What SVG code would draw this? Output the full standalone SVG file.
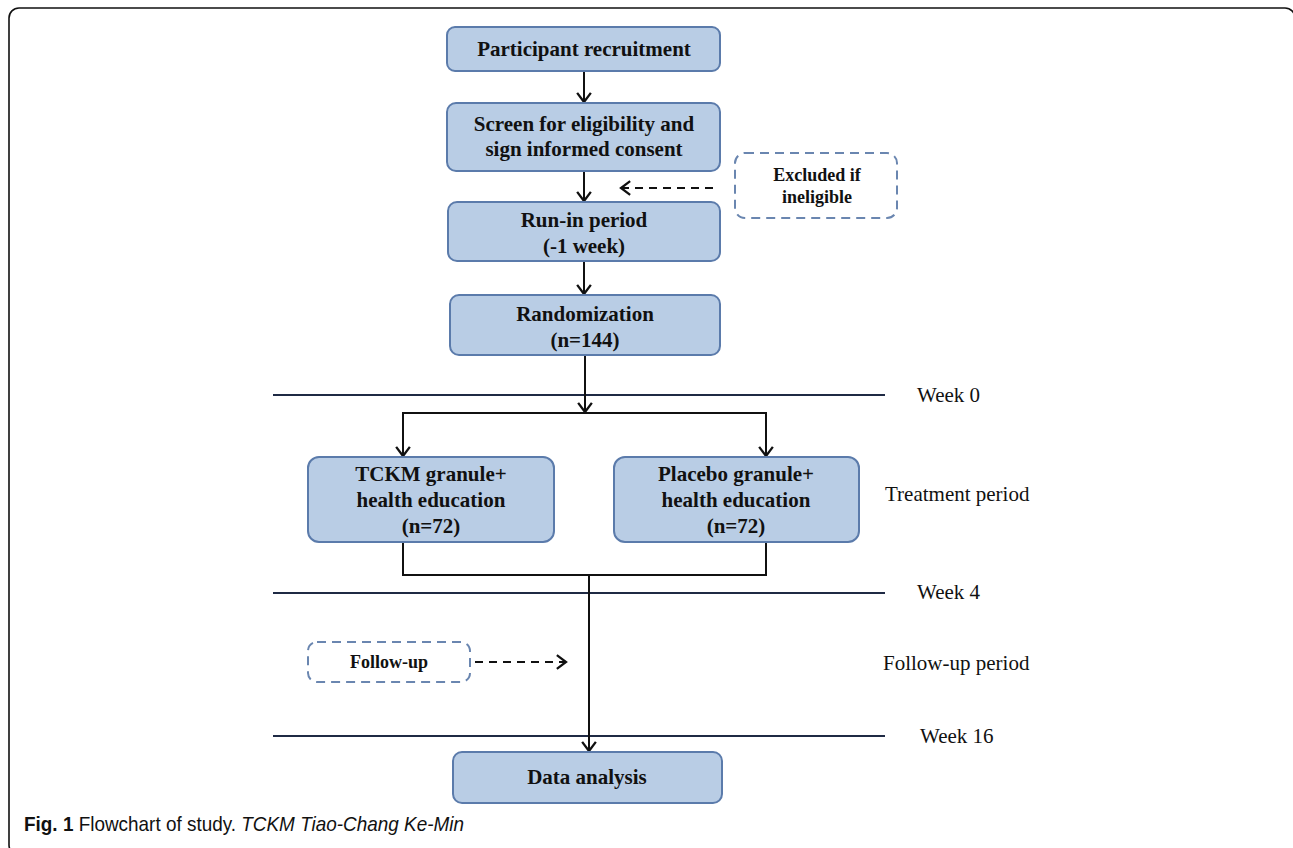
<svg xmlns="http://www.w3.org/2000/svg" width="1293" height="848" viewBox="0 0 1293 848">
<defs>
<style>
.box{fill:#b9cde5;stroke:#5b7bab;stroke-width:2}
.dbox{fill:#ffffff;stroke:#6a86b0;stroke-width:2;stroke-dasharray:9 6}
.bt{font-family:"Liberation Serif","Times New Roman",serif;font-weight:bold;font-size:21px;fill:#111;text-anchor:middle}
.st{font-family:"Liberation Serif","Times New Roman",serif;font-weight:bold;font-size:18px;fill:#111;text-anchor:middle}
.lab{font-family:"Liberation Serif","Times New Roman",serif;font-size:21px;fill:#111}
.con{fill:none;stroke:#111;stroke-width:2}
.dcon{fill:none;stroke:#111;stroke-width:2;stroke-dasharray:8 6}
.wk{fill:none;stroke:#1f2a44;stroke-width:2}
.cap{font-family:"Liberation Sans",Arial,sans-serif;font-size:21px;fill:#111}
</style>
<marker id="ah" markerUnits="userSpaceOnUse" markerWidth="16" markerHeight="16" refX="10" refY="7" orient="auto" viewBox="0 0 12 14">
<path d="M2,1 L10,7 L2,13" fill="none" stroke="#111" stroke-width="2"/>
</marker>
</defs>
<rect width="1293" height="848" fill="#ffffff"/>
<rect x="9" y="8" width="1286" height="847" rx="10" fill="none" stroke="#111" stroke-width="1.6"/>

<g id="week-lines">
<line class="wk" x1="273" y1="395" x2="885" y2="395"/>
<line class="wk" x1="273" y1="593" x2="885" y2="593"/>
<line class="wk" x1="273" y1="736" x2="885" y2="736"/>
</g>

<g id="connectors">
<line class="con" x1="584" y1="71" x2="584" y2="102" marker-end="url(#ah)"/>
<line class="con" x1="584" y1="171" x2="584" y2="201" marker-end="url(#ah)"/>
<line class="con" x1="584" y1="261" x2="584" y2="294" marker-end="url(#ah)"/>
<line class="con" x1="585" y1="355" x2="585" y2="412" marker-end="url(#ah)"/>
<polyline class="con" points="403,457 403,413 766,413 766,457"/>
<line class="con" x1="403" y1="413" x2="403" y2="456" marker-end="url(#ah)"/>
<line class="con" x1="766" y1="413" x2="766" y2="456" marker-end="url(#ah)"/>
<polyline class="con" points="403,542 403,575 766,575 766,542"/>
<line class="con" x1="589" y1="575" x2="589" y2="751" marker-end="url(#ah)"/>
<line class="dcon" x1="713" y1="188" x2="621" y2="188" marker-end="url(#ah)"/>
<line class="dcon" x1="475" y1="662" x2="566" y2="662" marker-end="url(#ah)"/>
</g>

<g id="n-recruit">
<rect class="box" x="447" y="27" width="273" height="44" rx="8"/>
<text class="bt" x="584" y="56">Participant recruitment</text>
</g>
<g id="n-screen">
<rect class="box" x="447" y="103" width="273" height="68" rx="9"/>
<text class="bt" x="584" y="131">Screen for eligibility and</text>
<text class="bt" x="584" y="156">sign informed consent</text>
</g>
<g id="n-excluded">
<rect class="dbox" x="735" y="153" width="162" height="65" rx="10"/>
<text class="st" x="817" y="181">Excluded if</text>
<text class="st" x="817" y="203">ineligible</text>
</g>
<g id="n-runin">
<rect class="box" x="448" y="202" width="272" height="59" rx="9"/>
<text class="bt" x="584" y="227">Run-in period</text>
<text class="bt" x="584" y="253">(-1 week)</text>
</g>
<g id="n-random">
<rect class="box" x="450" y="295" width="270" height="60" rx="9"/>
<text class="bt" x="585" y="321">Randomization</text>
<text class="bt" x="585" y="347">(n=144)</text>
</g>
<g id="n-tckm">
<rect class="box" x="308" y="457" width="246" height="85" rx="11"/>
<text class="bt" x="431" y="481">TCKM granule+</text>
<text class="bt" x="431" y="507">health education</text>
<text class="bt" x="431" y="533">(n=72)</text>
</g>
<g id="n-placebo">
<rect class="box" x="614" y="457" width="245" height="85" rx="11"/>
<text class="bt" x="736" y="481">Placebo granule+</text>
<text class="bt" x="736" y="507">health education</text>
<text class="bt" x="736" y="533">(n=72)</text>
</g>
<g id="n-followup">
<rect class="dbox" x="308" y="642" width="162" height="40" rx="9"/>
<text class="st" x="389" y="668">Follow-up</text>
</g>
<g id="n-data">
<rect class="box" x="453" y="752" width="269" height="51" rx="9"/>
<text class="bt" x="587" y="784">Data analysis</text>
</g>

<g id="period-labels">
<text class="lab" x="917" y="402">Week 0</text>
<text class="lab" x="885" y="501">Treatment period</text>
<text class="lab" x="917" y="599">Week 4</text>
<text class="lab" x="883" y="670">Follow-up period</text>
<text class="lab" x="920" y="743">Week 16</text>
</g>

<text class="cap" x="24" y="831" textLength="440" lengthAdjust="spacingAndGlyphs"><tspan font-weight="bold">Fig. 1</tspan> Flowchart of study. <tspan font-style="italic">TCKM Tiao-Chang Ke-Min</tspan></text>
</svg>
